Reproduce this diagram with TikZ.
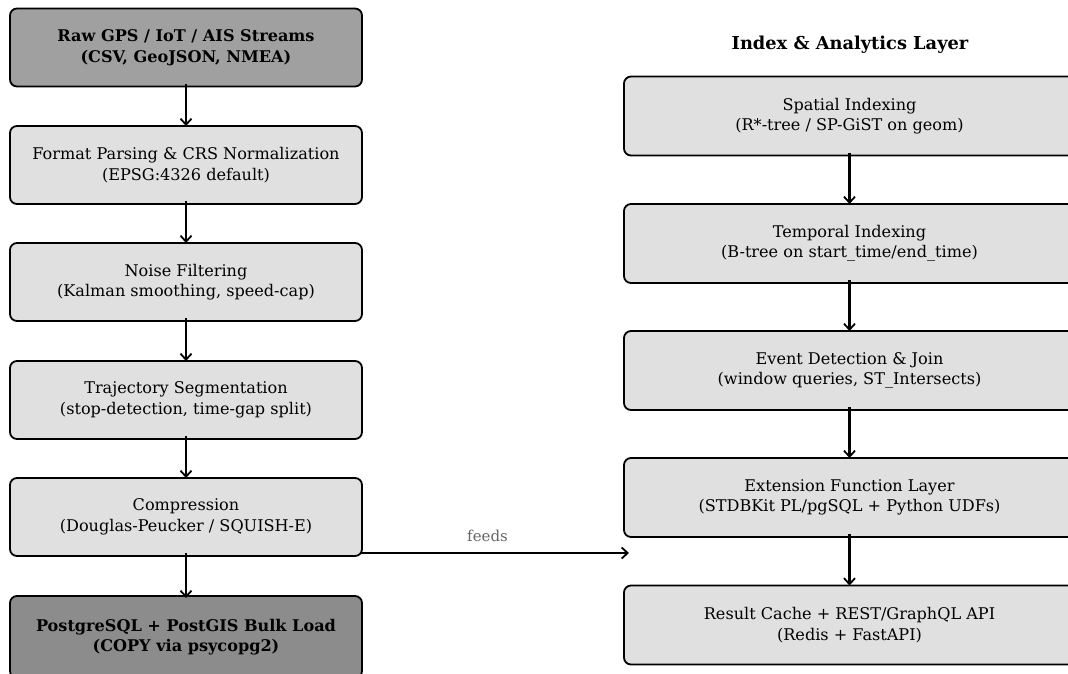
\documentclass[tikz,border=0pt]{standalone}
\usepackage{fontspec}
\setmainfont{DejaVu Serif}
\usetikzlibrary{arrows.meta,calc}
\definecolor{lightbox}{HTML}{E0E0E0}
\definecolor{srcbox}{HTML}{A0A0A0}
\definecolor{sinkbox}{HTML}{8C8C8C}
\tikzset{
  box/.style={draw=black, line width=1.8pt, rounded corners=7pt, fill=lightbox,
    align=center, font=\fontsize{16.1}{20.5}\selectfont, inner sep=0pt, outer sep=0pt},
  leftbox/.style={box, minimum width=352pt, minimum height=78pt},
  rightbox/.style={box, minimum width=451pt, minimum height=79pt},
  flow/.style={-{Straight Barb[length=6pt,width=11pt,line width=1.8pt]}, line width=2.1pt},
}
\begin{document}
\begin{tikzpicture}[x=1pt,y=-1pt]
\useasboundingbox (0,0) rectangle (1068,673);
% left column
\node[leftbox, fill=srcbox, font=\fontsize{16.1}{20.5}\selectfont\bfseries] (L1) at (186,47.5) {Raw GPS / IoT / AIS Streams\\(CSV, GeoJSON, NMEA)};
\node[leftbox] (L2) at (186,165) {Format Parsing \& CRS Normalization\\(EPSG:4326 default)};
\node[leftbox] (L3) at (186,282) {Noise Filtering\\(Kalman smoothing, speed-cap)};
\node[leftbox] (L4) at (186,400) {Trajectory Segmentation\\(stop-detection, time-gap split)};
\node[leftbox] (L5) at (186,517) {Compression\\(Douglas-Peucker / SQUISH-E)};
\node[leftbox, fill=sinkbox, minimum height=82pt, font=\fontsize{16.1}{20.5}\selectfont\bfseries] (L6) at (186,637) {PostgreSQL + PostGIS Bulk Load\\(COPY via psycopg2)};
% right column
\node[font=\fontsize{17.8}{21}\selectfont\bfseries] (T) at (850,45) {Index \& Analytics Layer};
\node[rightbox] (R1) at (849.5,116) {Spatial Indexing\\(R*-tree / SP-GiST on geom)};
\node[rightbox] (R2) at (849.5,243.5) {Temporal Indexing\\(B-tree on start\_time/end\_time)};
\node[rightbox] (R3) at (849.5,370.5) {Event Detection \& Join\\(window queries, ST\_Intersects)};
\node[rightbox] (R4) at (849.5,497.5) {Extension Function Layer\\(STDBKit PL/pgSQL + Python UDFs)};
\node[rightbox] (R5) at (849.5,625) {Result Cache + REST/GraphQL API\\(Redis + FastAPI)};
% arrows
\foreach \a/\b in {L1/L2,L2/L3,L3/L4,L4/L5} \draw[flow] ([yshift=3pt]\a.south) -- (\b.north);
\draw[flow] ([yshift=3pt]L5.south) -- ([yshift=-2pt]L6.north);
\foreach \a/\b in {R1/R2,R2/R3,R3/R4,R4/R5} \draw[flow] ([yshift=3pt]\a.south) -- (\b.north);
\coordinate (fs) at ($(L5.south east)+(-2,-3)$);
\coordinate (feedend) at (629,552);
\draw[flow] (fs) -- (fs -| feedend) node[midway, above=7pt, xshift=-7pt, text=black!60, font=\fontsize{15}{17}\selectfont] (fl) {feeds};
\end{tikzpicture}
\end{document}
